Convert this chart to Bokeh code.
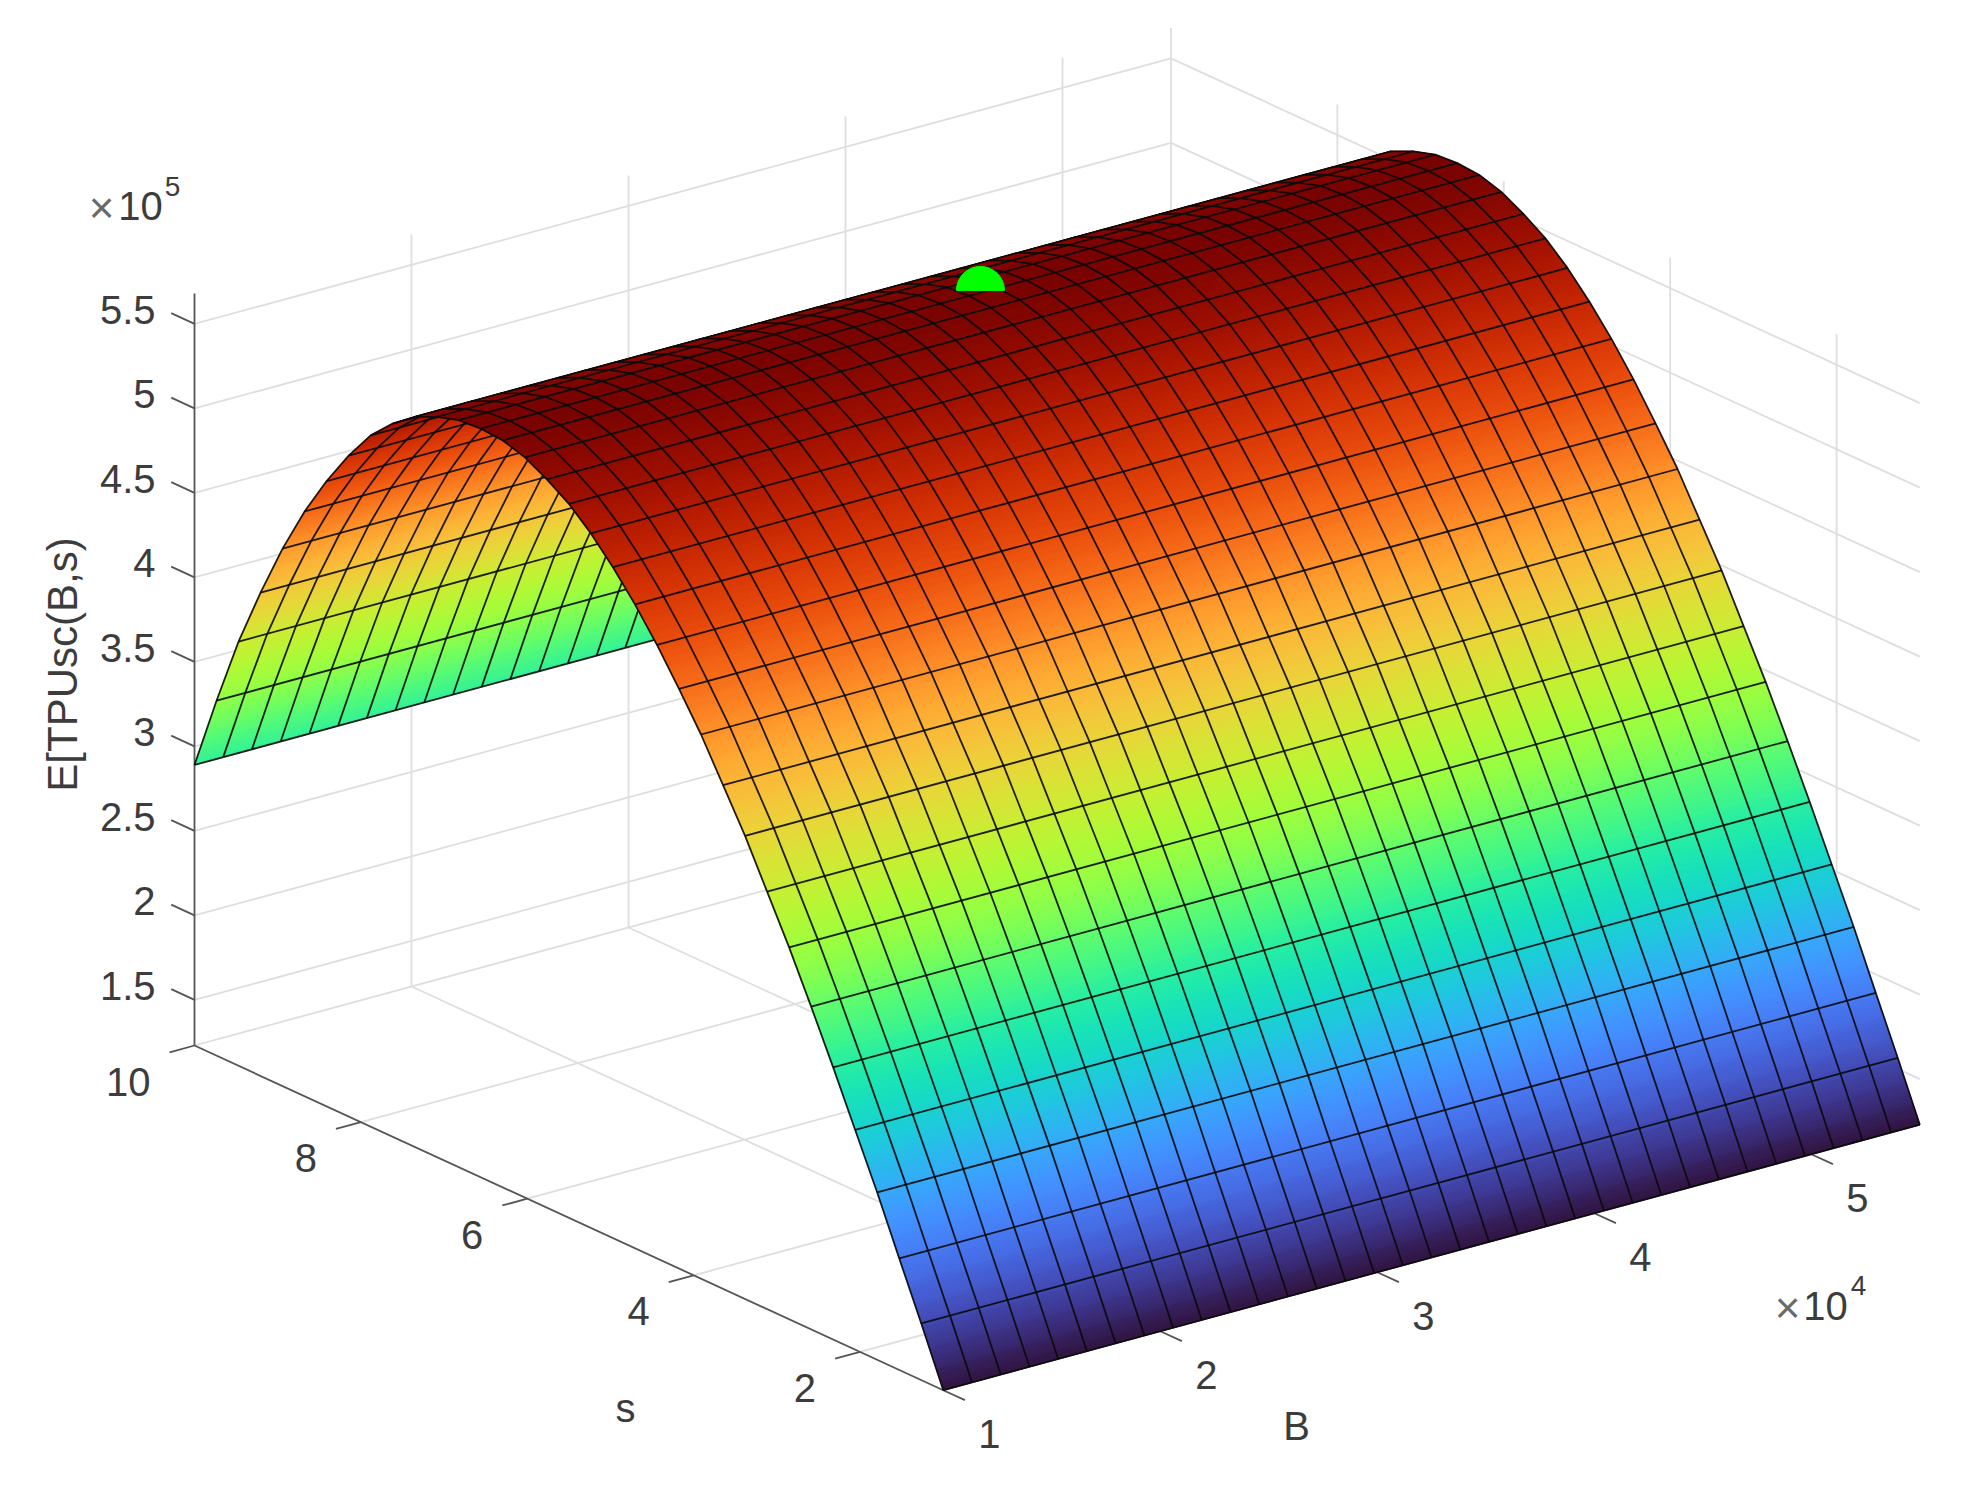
import numpy as np
from bokeh.core.properties import value
from bokeh.embed import file_html
from bokeh.models import Range1d
from bokeh.palettes import Turbo256
from bokeh.plotting import figure
from bokeh.resources import INLINE

# ---- data ----
# E[TPUsc] (x 1e5) along s, one value per mesh line, s = 1 ... 10 (34 cells)
z_profile = [1.23, 1.565, 1.89, 2.22, 2.53, 2.84, 3.14, 3.43, 3.70, 3.97,
             4.21, 4.45, 4.66, 4.86, 5.04, 5.20, 5.34, 5.455, 5.54, 5.61,
             5.65, 5.66, 5.65, 5.61, 5.55, 5.45, 5.32, 5.14, 4.93, 4.69,
             4.41, 4.09, 3.74, 3.33, 2.89]
n_mesh = len(z_profile)
s_mesh = np.linspace(1, 10, n_mesh)
B_mesh = np.linspace(1.0, 5.5, n_mesh)   # x 1e4
z_min, z_max = 1.23, 5.68
B_ticks = [1, 2, 3, 4, 5]
s_ticks = [2, 4, 6, 8, 10]
z_ticks = [1.5, 2, 2.5, 3, 3.5, 4, 4.5, 5, 5.5]
z_labels = ["1.5", "2", "2.5", "3", "3.5", "4", "4.5", "5", "5.5"]
opt_B, opt_s, opt_z = [3.28], [6.5], [5.695]

GRID = "#dedede"
AXIS = "#555555"
TEXT = "#3c3c3c"
FONT = value("Liberation Sans")
FS = "40px"
SUB = 16


def proj(B, s, z):
    B, s, z = np.asarray(B, float), np.asarray(s, float), np.asarray(z, float)
    x = 194 + (B - 1) * 217 + (10 - s) * 83.2
    y = 1045 - (B - 1) * 59 + (10 - s) * 38.3 - (z - z_min) * 169
    return x, y


def colour(z):
    i = int(round((z - min(z_profile)) / (max(z_profile) - min(z_profile)) * 255))
    return Turbo256[max(0, min(255, i))]


p = figure(width=1964, height=1490, output_backend="svg", toolbar_location=None,
           x_range=Range1d(0, 1964), y_range=Range1d(1490, 0), min_border=0,
           outline_line_color=None, x_axis_location=None, y_axis_location=None)
p.grid.visible = False


def segs(pairs, color, width):
    xs, ys = [], []
    for a, b in pairs:
        xa, ya = proj(*a)
        xb, yb = proj(*b)
        xs.append([float(xa), float(xb)])
        ys.append([float(ya), float(yb)])
    p.multi_line(xs, ys, line_color=color, line_width=width)


Bmin, Bmax = B_mesh[0], B_mesh[-1]
smin, smax = s_mesh[0], s_mesh[-1]

# back walls and floor grid
grid = []
for z in z_ticks:
    grid.append(((Bmin, smax, z), (Bmax, smax, z)))
    grid.append(((Bmax, smax, z), (Bmax, smin, z)))
for B in B_ticks[1:]:
    grid.append(((B, smax, z_min), (B, smax, z_max)))
    grid.append(((B, smax, z_min), (B, smin, z_min)))
for s in s_ticks[:-1]:
    grid.append(((Bmax, s, z_min), (Bmax, s, z_max)))
    grid.append(((Bmin, s, z_min), (Bmax, s, z_min)))
grid.append(((Bmin, smax, z_min), (Bmax, smax, z_min)))
grid.append(((Bmax, smax, z_min), (Bmax, smin, z_min)))
grid.append(((Bmax, smax, z_min), (Bmax, smax, z_max)))
segs(grid, GRID, 1.8)

# axes and ticks
ax = [((Bmin, smax, z_min), (Bmin, smax, z_max)),
      ((Bmin, smax, z_min), (Bmin, smin, z_min)),
      ((Bmin, smin, z_min), (Bmax, smin, z_min))]
for z in z_ticks:
    ax.append(((Bmin, smax, z), (Bmin, smax + 0.28, z)))
for s in s_ticks:
    ax.append(((Bmin, s, z_min), (Bmin - 0.115, s, z_min)))
for B in B_ticks:
    ax.append(((B, smin, z_min), (B, smin - 0.26, z_min)))
segs(ax, AXIS, 1.8)

# split the surface where it folds over on screen: the far part is seen from below
bx, by = proj(Bmax, smin, z_min)
ax0, ay0 = proj(Bmin, smin, z_min)
vb = (float(bx - ax0), float(by - ay0))
xs0, ys0 = proj(Bmin, s_mesh, z_profile)
fold = n_mesh - 1
for k in range(n_mesh - 1):
    dx, dy = xs0[k + 1] - xs0[k], ys0[k + 1] - ys0[k]
    if dx * vb[1] - dy * vb[0] < 0:
        fold = k
        break


def draw_layer(k0, k1):
    """Mesh cells k0..k1 (k index along s), far end first."""
    px, py, pc = [], [], []
    for k in range(k1 - 1, k0 - 1, -1):
        for t0 in np.linspace((SUB - 1) / SUB, 0, SUB):
            t1 = t0 + 1 / SUB
            s0, s1 = s_mesh[k] + (s_mesh[k + 1] - s_mesh[k]) * np.array([t0, t1])
            z0, z1 = z_profile[k] + (z_profile[k + 1] - z_profile[k]) * np.array([t0, t1])
            xa, ya = proj([Bmin, Bmax], [s0, s0], [z0, z0])
            xb, yb = proj([Bmax, Bmin], [s1, s1], [z1, z1])
            px.append(list(xa) + list(xb))
            py.append(list(ya) + list(yb))
            pc.append(colour((z0 + z1) / 2))
    p.patches(px, py, fill_color=pc, line_color=pc, line_width=1)
    lx, ly = [], []
    for B in B_mesh:
        x, y = proj(np.full(k1 - k0 + 1, B), s_mesh[k0:k1 + 1], z_profile[k0:k1 + 1])
        lx.append(list(x))
        ly.append(list(y))
    for k in range(k0, k1 + 1):
        x, y = proj([Bmin, Bmax], [s_mesh[k]] * 2, [z_profile[k]] * 2)
        lx.append(list(x))
        ly.append(list(y))
    p.multi_line(lx, ly, line_color="#0a0a0a", line_width=1.8, line_alpha=0.9)


draw_layer(fold, n_mesh - 1)
draw_layer(0, fold)

# optimum marker, half sunk in the surface
mx, my = proj(opt_B, opt_s, opt_z)
p.wedge(mx, my, radius=24, radius_units="screen", start_angle=0, end_angle=np.pi,
        fill_color="#00ff00", line_color="#00ff00")


def labels(xs, ys, texts, align="center", size=FS, color=TEXT, angle=0.0):
    p.text(xs, ys, text=texts, text_font=FONT, text_font_size=value(size),
           text_color=color, text_align=align, text_baseline="middle", angle=angle)


x, y = proj([Bmin] * len(z_ticks), [smax] * len(z_ticks), z_ticks)
labels(x - 39, y - 14, z_labels, align="right")
x, y = proj([Bmin] * len(s_ticks), s_ticks, [z_min] * len(s_ticks))
labels(x - 44, y + 36, [str(v) for v in s_ticks], align="right")
x, y = proj(B_ticks, [smin] * len(B_ticks), [z_min] * len(B_ticks))
labels(x + 46, y + 44, [str(v) for v in B_ticks])

labels([62], [664], ["E[TPUsc(B,s)"], angle=np.pi / 2, size="42px")
labels([625], [1407], ["s"], size="40px")
labels([1296], [1425], ["B"], size="40px")

labels([101], [207], ["\u00d7"], size="44px", color="#6a6a6a")
labels([140], [205], ["10"], size="40px")
labels([172], [186], ["5"], size="28px")
labels([1787], [1307], ["\u00d7"], size="44px", color="#6a6a6a")
labels([1825], [1305], ["10"], size="40px")
labels([1858], [1285], ["4"], size="28px")

open("out.html", "w").write(file_html(p, INLINE))
